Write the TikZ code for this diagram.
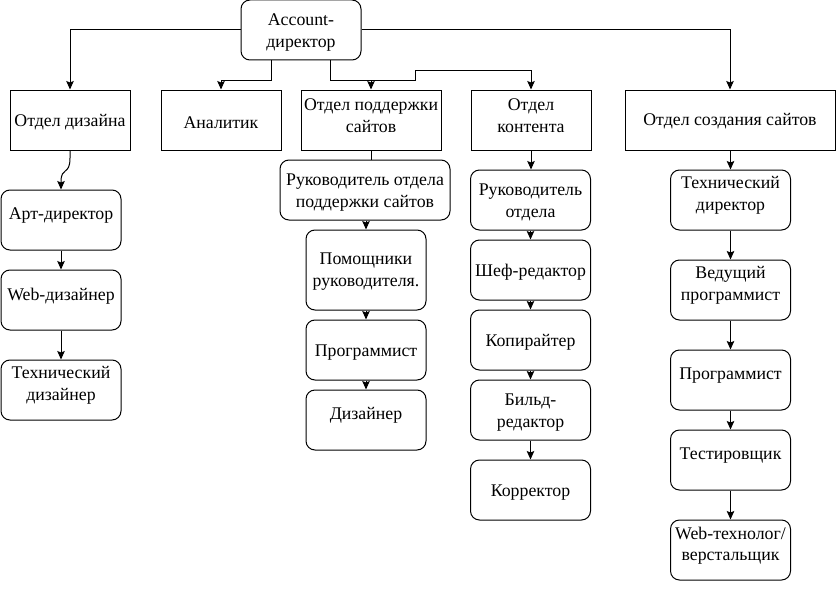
\documentclass[tikz,border=0pt]{standalone}
\usepackage{fontspec}
\setmainfont{Liberation Serif}
\usetikzlibrary{arrows.meta}
\begin{document}
\begin{tikzpicture}[x=1pt,y=-1pt,
  every node/.style={font=\fontsize{17.8}{21.5}\selectfont},
  sq/.style={draw,line width=1pt,minimum width=120pt,minimum height=60pt,inner sep=0pt},
  rb/.style={sq,rounded corners=9pt},
  txt/.style={align=center,inner sep=0pt,yshift=-2.5pt},
  conn/.style={line width=1pt,-{Stealth[length=8.5pt,width=7.5pt,inset=1.5pt]}},
  plain/.style={line width=1pt}]
\useasboundingbox (0,0) rectangle (837,594);
% top level
\node[rb] (acc) at (301,30) {};
\node[txt] (acc-t) at (301,30) {Account-\\директор};
\node[sq] (dd) at (70,120) {};
\node[txt] (dd-t) at (70,120) {Отдел дизайна};
\node[sq] (an) at (221,120) {};
\node[txt] (an-t) at (221,120) {Аналитик};
\node[sq,minimum width=140pt] (ps) at (371,120) {};
\node[txt] (ps-t) at (371,113) {Отдел поддержки\\сайтов};
\node[sq] (ct) at (531,120) {};
\node[txt] (ct-t) at (531,113) {Отдел\\контента};
\node[sq,minimum width=210pt] (cs) at (730,120) {};
\node[txt] (cs-t) at (730,119) {Отдел создания сайтов};
% design column
\node[rb] (ad) at (61,220) {};
\node[txt] (ad-t) at (61,213) {Арт-директор};
\node[rb] (wd) at (61,300) {};
\node[txt] (wd-t) at (61,294) {Web-дизайнер};
\node[rb] (td) at (61,390) {};
\node[txt] (td-t) at (61,383) {Технический\\дизайнер};
% support column
\node[rb,minimum width=170pt] (r1) at (365,190) {};
\node[txt] (r1-t) at (365,190) {Руководитель отдела\\поддержки сайтов};
\node[rb,minimum height=80pt] (r2) at (366,270) {};
\node[txt] (r2-t) at (366,269) {Помощники\\руководителя.};
\node[rb] (r3) at (366,350) {};
\node[txt] (r3-t) at (366,350) {Программист};
\node[rb] (r4) at (366,420) {};
\node[txt] (r4-t) at (366,413) {Дизайнер};
% content column
\node[rb] (c1) at (530.5,200) {};
\node[txt] (c1-t) at (530.5,200) {Руководитель\\отдела};
\node[rb] (c2) at (530.5,270) {};
\node[txt] (c2-t) at (530.5,270) {Шеф-редактор};
\node[rb] (c3) at (530.5,340) {};
\node[txt] (c3-t) at (530.5,340) {Копирайтер};
\node[rb] (c4) at (530.5,410) {};
\node[txt] (c4-t) at (530.5,410) {Бильд-\\редактор};
\node[rb] (c5) at (530.5,490) {};
\node[txt] (c5-t) at (530.5,490) {Корректор};
% creation column
\node[rb] (s1) at (730.5,200) {};
\node[txt] (s1-t) at (730.5,193) {Технический\\директор};
\node[rb] (s2) at (730.5,290) {};
\node[txt] (s2-t) at (730.5,283) {Ведущий\\программист};
\node[rb] (s3) at (730.5,380) {};
\node[txt] (s3-t) at (730.5,373) {Программист};
\node[rb] (s4) at (730.5,460) {};
\node[txt] (s4-t) at (730.5,453) {Тестировщик};
\node[rb] (s5) at (730.5,550) {};
\node[txt] (s5-t) at (730.5,543) {Web-технолог/\\верстальщик};
% connectors from Account
\draw[conn] (acc.west) -| (dd.north);
\draw[conn] (acc.east) -| (cs.north);
\draw[conn] (acc.south -| 271,0) |- (221,80) -- (an.north -| 221,0);
\draw[conn] (acc.south -| 330,0) |- (371,80) -- (ps.north -| 371,0);
\draw[conn] (acc.south -| 330,0) |- (415,80) |- (531,70) -- (ct.north);
% design
\draw[conn] (dd.south) -- (70,158) .. controls (70,176) and (61,166) .. (61,182) -- (ad.north);
\draw[conn] (ad) -- (wd);
\draw[conn] (wd) -- (td);
% support
\draw[plain] (ps.south) -- (r1.north -| ps.south);
\draw[conn] (r1.south -| r2.north) -- (r2.north);
\draw[conn] (r2) -- (r3);
\draw[conn] (r3) -- (r4);
% content
\draw[conn] (ct.south) -- (c1.north -| ct.south);
\draw[conn] (c1) -- (c2);
\draw[conn] (c2) -- (c3);
\draw[conn] (c3) -- (c4);
\draw[conn] (c4) -- (c5);
% creation
\draw[conn] (cs.south -| s1.north) -- (s1.north);
\draw[conn] (s1) -- (s2);
\draw[conn] (s2) -- (s3);
\draw[conn] (s3) -- (s4);
\draw[conn] (s4) -- (s5);
\end{tikzpicture}
\end{document}
